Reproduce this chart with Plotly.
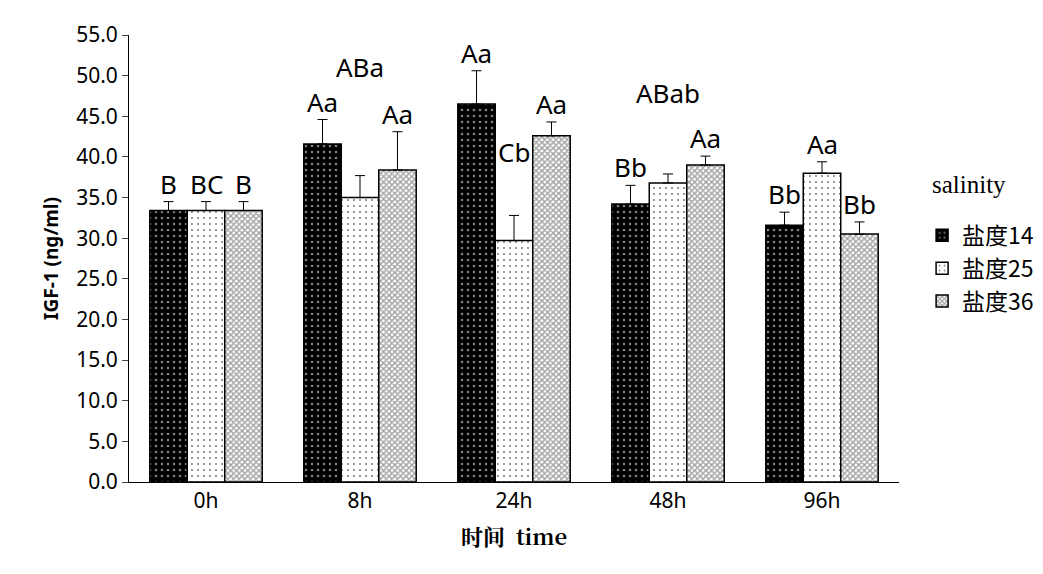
import plotly.graph_objects as go

times = ["0h", "8h", "24h", "48h", "96h"]
series_names = ["盐度14", "盐度25", "盐度36"]
values = [
    [33.4, 41.6, 46.5, 34.2, 31.6],
    [33.4, 35.0, 29.7, 36.8, 38.0],
    [33.4, 38.4, 42.6, 39.0, 30.5],
]
errors = [
    [1.1, 3.0, 4.1, 2.3, 1.6],
    [1.1, 2.7, 3.1, 1.1, 1.4],
    [1.1, 4.7, 1.7, 1.1, 1.5],
]
letters = [
    ["B", "Aa", "Aa", "Bb", "Bb"],
    ["BC", "ABa", "Cb", "ABab", "Aa"],
    ["B", "Aa", "Aa", "Aa", "Bb"],
]
# label heights where they float above the error bar
label_y = [
    [None, None, None, None, None],
    [None, 48.8, 38.4, 45.6, None],
    [None, None, None, None, None],
]

styles = [
    dict(color="black", pattern=dict(shape=".", fgcolor="white", bgcolor="black", size=6, solidity=0.15)),
    dict(color="white", pattern=dict(shape=".", fgcolor="black", bgcolor="white", size=6, solidity=0.1)),
    dict(color="white", pattern=dict(shape="x", fgcolor="#444444", bgcolor="white", size=4, solidity=0.6)),
]

fig = go.Figure()
for i, name in enumerate(series_names):
    fig.add_trace(go.Bar(
        x=times, y=values[i], name=name, offsetgroup=str(i),
        marker=dict(color=styles[i]["color"], pattern=styles[i]["pattern"],
                    line=dict(color="black", width=1.5)),
        error_y=dict(type="data", array=errors[i], symmetric=False, arrayminus=[0] * 5,
                     color="black", thickness=1, width=5),
    ))

offsets = [-1, 0, 1]
annotations = []
for i in range(3):
    for j, t in enumerate(times):
        y = label_y[i][j] if label_y[i][j] is not None else values[i][j] + errors[i][j]
        annotations.append(dict(
            x=j + offsets[i] * 0.245, y=y, xref="x", yref="y", text=letters[i][j],
            showarrow=False, yanchor="bottom", yshift=-2,
            font=dict(family="Noto Sans", size=26, color="black"),
        ))
annotations.append(dict(
    x=1.04, y=0.665, xref="paper", yref="paper", text="salinity", showarrow=False,
    xanchor="left", font=dict(family="Liberation Serif", size=25, color="black"),
))

fig.update_layout(
    width=1043, height=574, plot_bgcolor="white", paper_bgcolor="white",
    margin=dict(l=121, r=143, t=16, b=100),
    barmode="group", bargap=0.27, bargroupgap=0,
    annotations=annotations,
    font=dict(family="Noto Sans", size=21, color="black"),
    legend=dict(x=1.03, y=0.6, yanchor="top", xanchor="left", tracegroupgap=18,
                font=dict(family="Noto Sans CJK SC", size=23), itemwidth=30),
    xaxis=dict(showline=True, linecolor="black", linewidth=1, ticks="", mirror=False,
               title=dict(text="<b>时间  time</b>", standoff=16,
                          font=dict(family="Noto Serif CJK SC, Noto Sans CJK SC", size=22))),
    yaxis=dict(range=[0, 55], dtick=5, tickformat=".1f", showline=True, linecolor="black",
               ticks="outside", ticklen=6, showgrid=False,
               title=dict(text="<b>IGF-1 (ng/ml)</b>", standoff=12,
                          font=dict(family="Noto Sans", size=19))),
)
fig.write_html("out.html")
